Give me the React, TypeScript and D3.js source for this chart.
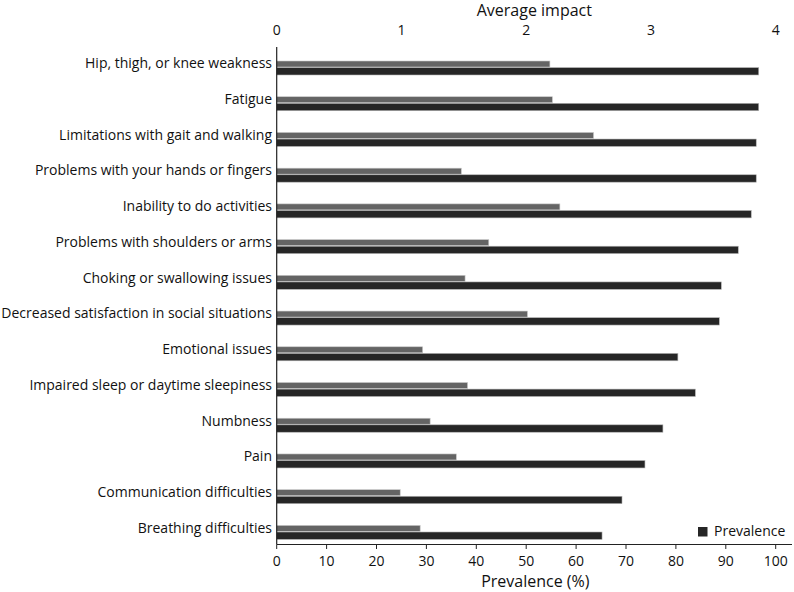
import React, { useEffect, useRef } from 'react';
import * as d3 from 'd3';

const symptoms: string[] = [
  'Hip, thigh, or knee weakness',
  'Fatigue',
  'Limitations with gait and walking',
  'Problems with your hands or fingers',
  'Inability to do activities',
  'Problems with shoulders or arms',
  'Choking or swallowing issues',
  'Decreased satisfaction in social situations',
  'Emotional issues',
  'Impaired sleep or daytime sleepiness',
  'Numbness',
  'Pain',
  'Communication difficulties',
  'Breathing difficulties',
];

// prevalence in %, bottom axis
const prevalence: number[] = [96.6, 96.6, 96.1, 96.1, 95.1, 92.5, 89.1, 88.7, 80.4, 83.9, 77.4, 73.8, 69.2, 65.2];

// average impact, top axis
const avgImpact: number[] = [2.19, 2.21, 2.54, 1.48, 2.27, 1.70, 1.51, 2.01, 1.17, 1.53, 1.23, 1.44, 0.99, 1.15];

const prevalenceTicks: number[] = [0, 10, 20, 30, 40, 50, 60, 70, 80, 90, 100];
const impactTicks: number[] = [0, 1, 2, 3, 4];

const WIDTH = 794;
const HEIGHT = 592;
const FONT = '"Open Sans", "Noto Sans", sans-serif';

const App: React.FC = () => {
  const svgRef = useRef<SVGSVGElement>(null);

  useEffect(() => {
    if (!svgRef.current) return;
    const svg = d3.select(svgRef.current);
    svg.selectAll('*').remove();

    const left = 276.7;
    const axisRight = 792;
    const axisY = 544.5;

    const x = d3.scaleLinear().domain([0, 100]).range([left, 775.7]);
    const xImpact = d3.scaleLinear().domain([0, 4]).range([left, 775.7]);
    const y = d3.scalePoint<string>().domain(symptoms).range([67.3, 531.7]);

    // impact bars (grey, upper)
    svg.append('g')
      .selectAll('rect')
      .data(symptoms)
      .enter()
      .append('rect')
      .attr('x', left)
      .attr('y', d => (y(d) as number) - 6.3)
      .attr('width', (d, i) => xImpact(avgImpact[i]) - left)
      .attr('height', 6)
      .attr('fill', '#646464')
      .attr('stroke', '#c8c8c8')
      .attr('stroke-width', 0.6);

    // prevalence bars (dark, lower)
    svg.append('g')
      .selectAll('rect')
      .data(symptoms)
      .enter()
      .append('rect')
      .attr('x', left)
      .attr('y', d => (y(d) as number) + 0.3)
      .attr('width', (d, i) => x(prevalence[i]) - left)
      .attr('height', 7.4)
      .attr('fill', '#262626')
      .attr('stroke', '#b4b4b4')
      .attr('stroke-width', 0.6);

    // category labels
    svg.append('g')
      .selectAll('text')
      .data(symptoms)
      .enter()
      .append('text')
      .attr('x', 272)
      .attr('y', d => (y(d) as number) + 1)
      .attr('text-anchor', 'end')
      .attr('font-family', FONT)
      .attr('font-size', '14px')
      .attr('fill', '#111')
      .text(d => d);

    // left axis line
    svg.append('line')
      .attr('x1', left)
      .attr('x2', left)
      .attr('y1', 47)
      .attr('y2', axisY)
      .attr('stroke', '#222')
      .attr('stroke-width', 1.2);

    // bottom axis
    svg.append('line')
      .attr('x1', left)
      .attr('x2', axisRight)
      .attr('y1', axisY)
      .attr('y2', axisY)
      .attr('stroke', '#222')
      .attr('stroke-width', 1.2);

    const bottom = svg.append('g');
    bottom.selectAll('line')
      .data(prevalenceTicks)
      .enter()
      .append('line')
      .attr('x1', d => x(d))
      .attr('x2', d => x(d))
      .attr('y1', axisY)
      .attr('y2', axisY + 4.5)
      .attr('stroke', '#222')
      .attr('stroke-width', 1);
    bottom.selectAll('text')
      .data(prevalenceTicks)
      .enter()
      .append('text')
      .attr('x', d => x(d))
      .attr('y', 566)
      .attr('text-anchor', 'middle')
      .attr('font-family', FONT)
      .attr('font-size', '14px')
      .attr('fill', '#111')
      .text(d => d);

    svg.append('text')
      .attr('x', (left + axisRight) / 2 + 1)
      .attr('y', 587)
      .attr('text-anchor', 'middle')
      .attr('font-family', FONT)
      .attr('font-size', '16px')
      .attr('fill', '#111')
      .text('Prevalence (%)');

    // top axis (labels only)
    svg.append('g')
      .selectAll('text')
      .data(impactTicks)
      .enter()
      .append('text')
      .attr('x', d => xImpact(d))
      .attr('y', 35)
      .attr('text-anchor', 'middle')
      .attr('font-family', FONT)
      .attr('font-size', '14px')
      .attr('fill', '#111')
      .text(d => d);

    svg.append('text')
      .attr('x', (left + axisRight) / 2)
      .attr('y', 15.5)
      .attr('text-anchor', 'middle')
      .attr('font-family', FONT)
      .attr('font-size', '16px')
      .attr('fill', '#111')
      .text('Average impact');

    // legend
    const legend = svg.append('g').attr('transform', 'translate(698, 527)');
    legend.append('rect')
      .attr('width', 9.5)
      .attr('height', 9.5)
      .attr('fill', '#262626');
    legend.append('text')
      .attr('x', 16)
      .attr('y', 9)
      .attr('font-family', FONT)
      .attr('font-size', '14px')
      .attr('fill', '#111')
      .text('Prevalence');
  }, []);

  return (
    <svg
      ref={svgRef}
      width={WIDTH}
      height={HEIGHT}
      style={{ position: 'absolute', left: 0, top: 0, background: '#fff' }}
    />
  );
};

export default App;
